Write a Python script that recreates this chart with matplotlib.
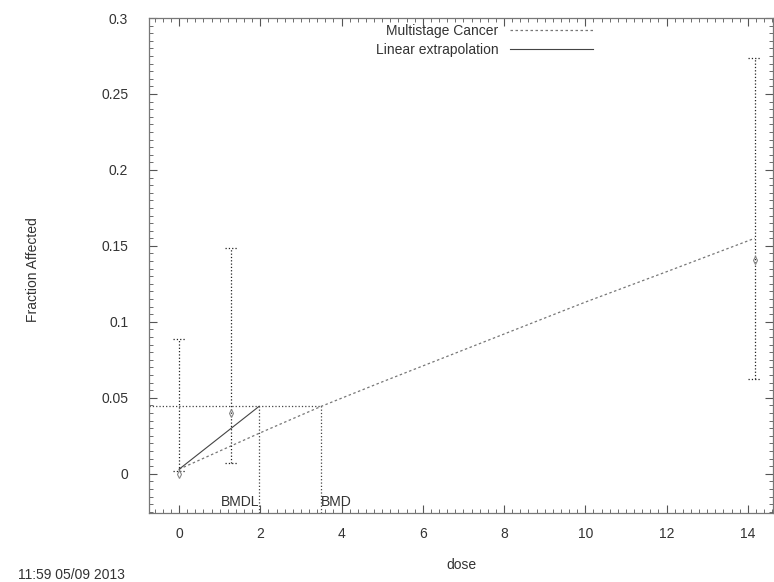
import matplotlib
matplotlib.use("Agg")
import matplotlib.pyplot as plt
from matplotlib.ticker import MultipleLocator

# observed data (dose, fraction affected, CI)
dose = [0.0, 1.28, 14.17]
frac = [0.0, 0.040, 0.141]
ci_low = [0.002, 0.0073, 0.0623]
ci_high = [0.089, 0.1485, 0.274]

# multistage cancer model curve
curve_dose = [0.0, 1.0, 2.0, 3.5, 5.0, 6.0, 8.0, 10.0, 12.0, 14.17]
curve_frac = [0.003, 0.015, 0.027, 0.0444, 0.0605, 0.071, 0.092, 0.113, 0.133, 0.155]

bmr = 0.0444
bmd = 3.50
bmdl = 1.97
bg = 0.003

plt.rcParams["font.family"] = ["Liberation Sans", "DejaVu Sans"]
plt.rcParams["font.size"] = 10
txt = "#333333"

fig = plt.figure(figsize=(7.74, 5.82), dpi=100)
ax = fig.add_axes([149 / 774, 1 - 513 / 582, (773 - 149) / 774, (513 - 18) / 582])

ax.plot(curve_dose, curve_frac, color="#777777", lw=0.9, ls=(0, (2, 2)),
        label="Multistage Cancer")
ax.plot([0, bmdl], [bg, bmr], color="#444444", lw=0.8,
        label="Linear extrapolation")

# dotted error bars with dotted caps
cap = 0.16
ax.vlines(dose, ci_low, ci_high, colors="#222222", lw=0.9, linestyles=":")
ax.hlines(ci_low, [d - cap for d in dose], [d + cap for d in dose],
          colors="#222222", lw=0.9, linestyles=":")
ax.hlines(ci_high, [d - cap for d in dose], [d + cap for d in dose],
          colors="#222222", lw=0.9, linestyles=":")
ax.plot(dose, frac, "d", ms=4, mfc="none", mec="#888888", mew=0.8)

ymin, ymax = -0.0258, 0.3
xmin, xmax = -0.74, 14.62

# BMD / BMDL guide lines
ax.plot([xmin, bmd], [bmr, bmr], color="#444444", lw=0.9, ls=":")
ax.plot([bmd, bmd], [ymin, bmr], color="#444444", lw=0.9, ls=":")
ax.plot([bmdl, bmdl], [ymin, bmr], color="#444444", lw=0.9, ls=":")
ax.text(bmdl, -0.0185, "BMDL", ha="right", va="center", color=txt)
ax.text(bmd, -0.0185, "BMD", ha="left", va="center", color=txt)

ax.set_xlim(xmin, xmax)
ax.set_ylim(ymin, ymax)
ax.xaxis.set_major_locator(MultipleLocator(2))
ax.xaxis.set_minor_locator(MultipleLocator(0.2))
ax.yaxis.set_minor_locator(MultipleLocator(0.005))
ax.set_yticks([0, 0.05, 0.1, 0.15, 0.2, 0.25, 0.3])
ax.set_yticklabels(["0", "0.05", "0.1", "0.15", "0.2", "0.25", "0.3"])
ax.tick_params(which="both", direction="in", top=True, right=True, colors="#555555",
               labelcolor=txt)
ax.tick_params(which="major", length=6)
ax.tick_params(axis="y", which="major", pad=15)
ax.tick_params(axis="x", which="major", pad=10)
ax.tick_params(which="minor", length=3)
for s in ax.spines.values():
    s.set_color("#777777")
    s.set_linewidth(0.9)

ax.set_xlabel("dose", color=txt, labelpad=12)
fig.text(33 / 774, 1 - 270 / 582, "Fraction Affected", rotation=90, ha="center",
         va="center", color=txt)
fig.text(18 / 774, 1 - 575 / 582, "11:59 05/09 2013", ha="left", va="center", color=txt)

ax.legend(loc="upper right", bbox_to_anchor=(600 / 774, 1 - 17 / 582),
          bbox_transform=fig.transFigure, frameon=False, markerfirst=False,
          handlelength=6, handletextpad=0.8, labelspacing=0.35, borderpad=0,
          labelcolor=txt)

fig.savefig("out.png", dpi=100)
